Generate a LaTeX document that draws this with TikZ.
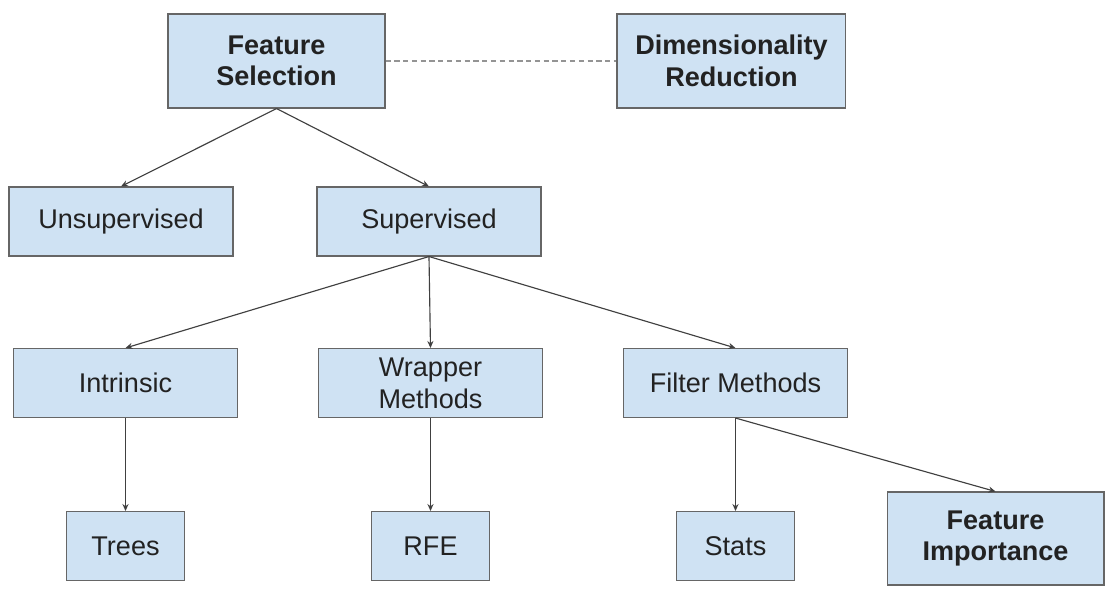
\documentclass[tikz,border=0pt]{standalone}
\usepackage{fontspec}
\setmainfont{Liberation Sans}
\usepackage{tikz}
\usetikzlibrary{arrows.meta, positioning}

\definecolor{boxfill}{HTML}{CFE2F3}
\definecolor{boxline}{HTML}{666666}
\definecolor{textgray}{HTML}{222222}

\begin{document}
\begin{tikzpicture}[x=0.02cm, y=-0.02cm,
    box/.style = {draw=boxline, fill=boxfill, line width=0.6pt, align=center,
                  text=textgray, font=\fontsize{15.4}{18}\selectfont,
                  minimum width=4.48cm, minimum height=1.38cm, inner sep=2pt},
    head/.style = {font=\fontsize{15.4}{18}\selectfont\bfseries, minimum height=1.88cm},
    leaf/.style = {minimum width=2.36cm}]
            \useasboundingbox (0,0) rectangle (1114,596);

            \node (fs) [box, head, minimum width=4.34cm] at (276.5,61) {Feature\\Selection};
            \node (dr) [box, head, minimum width=4.58cm, right=4.62cm of fs] {Dimensionality\\Reduction};
            \node (uns) [box] at (121,221.5) {Unsupervised};
            \node (sup) [box, right=1.66cm of uns] {Supervised};
            \node (intr) [box] at (125.5,383) {Intrinsic};
            \node (wrap) [box, right=1.6cm of intr] {Wrapper\\Methods};
            \node (filt) [box, right=1.6cm of wrap] {Filter Methods};
            \node (trees) [box, leaf, below=1.86cm of intr] {Trees};
            \node (rfe) [box, leaf, below=1.86cm of wrap] {RFE};
            \node (stats) [box, leaf, below=1.86cm of filt] {Stats};
            \node (fi) [box, head, minimum width=4.34cm, minimum height=1.86cm] at (995.5,538.5) {Feature\\Importance};

            \draw[boxline!70, line width=0.6pt, dash pattern=on 3pt off 2pt] (fs) -- (dr);

            \path[-{Stealth[length=4pt, width=3.5pt]}, line width=0.65pt, color=black!75]
            (fs.south) edge (uns.north)
            (fs.south) edge (sup.north)
            (sup.south) edge (intr.north)
            (sup.south) edge (wrap.north)
            (sup.south) edge (filt.north)
            (intr) edge (trees)
            (wrap) edge (rfe)
            (filt) edge (stats)
            (filt.south) edge (fi.north);
        \end{tikzpicture}
\end{document}
